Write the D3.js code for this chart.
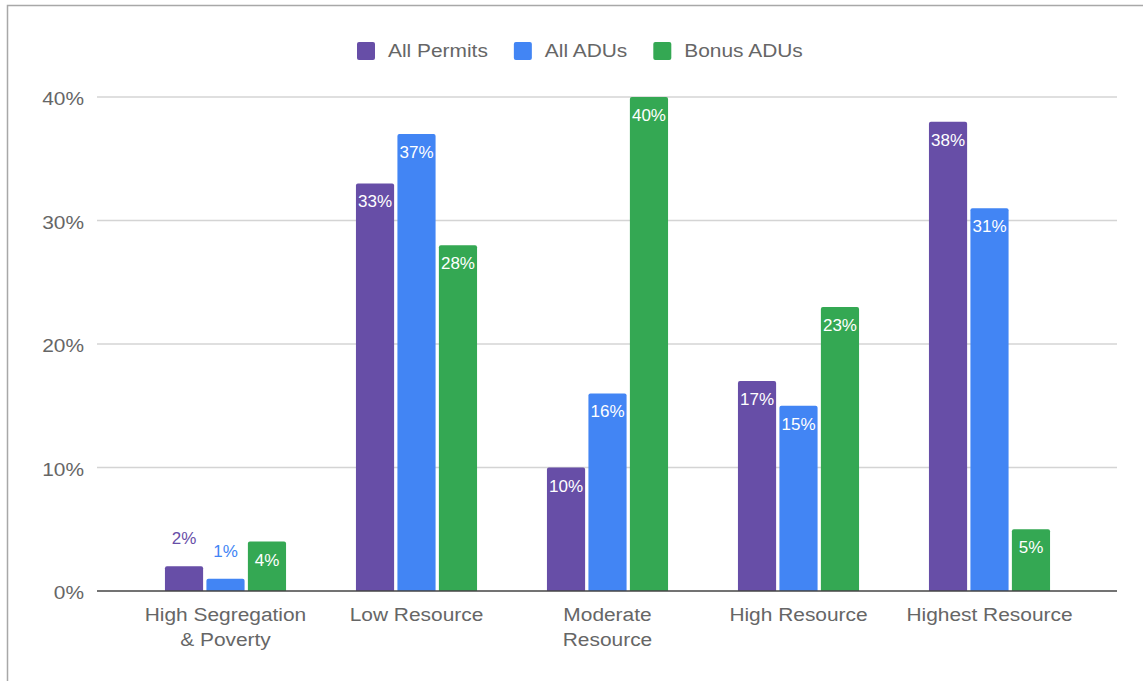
<!DOCTYPE html>
<html>
<head>
<meta charset="utf-8">
<script src="https://cdn.jsdelivr.net/npm/d3@7"></script>
<style>
  html, body { margin: 0; padding: 0; background: #fff; }
  svg { display: block; }
  text { font-family: "Liberation Sans", Arial, sans-serif; }
</style>
</head>
<body>
<svg id="chart" width="1143" height="681"></svg>
<script>
// Share of permits by resource-area category
const categories = [
  ["High Segregation", "& Poverty"],
  ["Low Resource"],
  ["Moderate", "Resource"],
  ["High Resource"],
  ["Highest Resource"]
];
const seriesNames = ["All Permits", "All ADUs", "Bonus ADUs"];
const seriesColors = ["#674ea7", "#4285f4", "#34a853"];
const allPermits = [0.02, 0.33, 0.10, 0.17, 0.38];
const allADUs    = [0.01, 0.37, 0.16, 0.15, 0.31];
const bonusADUs  = [0.04, 0.28, 0.40, 0.23, 0.05];
const yTicks = [0, 0.1, 0.2, 0.3, 0.4];

const seriesValues = [allPermits, allADUs, bonusADUs];
const catKeys = categories.map(c => c.join(" "));

const svg = d3.select("#chart");
const textColor = "#666666";
const stretch = 1.1; // horizontal text stretch

// frame
svg.append("rect")
  .attr("x", 7.5).attr("y", 5.5)
  .attr("width", 1200).attr("height", 700)
  .attr("fill", "none").attr("stroke", "#a8a8a8").attr("stroke-width", 1.5);

const gridLeft = 97, gridRight = 1117;
const y = d3.scaleLinear().domain([0, 0.4]).range([591, 97]);
const x0 = d3.scaleBand().domain(catKeys).range([130, 1085])
  .paddingInner(0.366).paddingOuter(0.183);
const x1 = d3.scaleBand().domain(seriesNames).range([0, x0.bandwidth()])
  .paddingInner(0.08);

function stretchedText(sel, xPos, yPos) {
  return sel.attr("transform", `translate(${xPos},${yPos}) scale(${stretch},1)`);
}

// gridlines
svg.append("g").selectAll("line")
  .data(yTicks.filter(t => t > 0))
  .join("line")
  .attr("x1", gridLeft).attr("x2", gridRight)
  .attr("y1", d => y(d)).attr("y2", d => y(d))
  .attr("stroke", "#d4d4d4").attr("stroke-width", 1.4);

// y tick labels
const fmt = d3.format(".0%");
svg.append("g").selectAll("text")
  .data(yTicks)
  .join("text")
  .each(function(d) { stretchedText(d3.select(this), 84, y(d) + 8); })
  .attr("text-anchor", "end")
  .attr("font-size", 19)
  .attr("fill", textColor)
  .text(d => fmt(d));

// bars
const r = 2;
function barPath(x, yTop, w, h) {
  const rr = Math.min(r, h);
  return `M${x},${yTop + h}V${yTop + rr}Q${x},${yTop} ${x + rr},${yTop}` +
         `H${x + w - rr}Q${x + w},${yTop} ${x + w},${yTop + rr}V${yTop + h}Z`;
}

const barData = [];
catKeys.forEach((c, ci) => {
  seriesNames.forEach((s, si) => {
    barData.push({ cat: c, series: s, si, value: seriesValues[si][ci] });
  });
});

const bars = svg.append("g");
bars.selectAll("path")
  .data(barData)
  .join("path")
  .attr("d", d => {
    const bx = x0(d.cat) + x1(d.series);
    const top = y(d.value);
    return barPath(bx, top, x1.bandwidth(), y(0) - top);
  })
  .attr("fill", d => seriesColors[d.si]);

// value labels
bars.selectAll("text")
  .data(barData)
  .join("text")
  .attr("x", d => x0(d.cat) + x1(d.series) + x1.bandwidth() / 2)
  .attr("y", d => {
    const top = y(d.value);
    return (y(0) - top) >= 30 ? top + 24 : top - 22;
  })
  .attr("text-anchor", "middle")
  .attr("font-size", 17)
  .attr("fill", d => (y(0) - y(d.value)) >= 30 ? "#ffffff" : seriesColors[d.si])
  .text(d => fmt(d.value));

// baseline
svg.append("line")
  .attr("x1", gridLeft).attr("x2", gridRight)
  .attr("y1", y(0)).attr("y2", y(0))
  .attr("stroke", "#444444").attr("stroke-width", 1.6);

// category labels
const catG = svg.append("g");
categories.forEach((lines, ci) => {
  const cx = x0(catKeys[ci]) + x0.bandwidth() / 2;
  lines.forEach((ln, li) => {
    catG.append("text")
      .each(function() { stretchedText(d3.select(this), cx, 621 + li * 25); })
      .attr("text-anchor", "middle")
      .attr("font-size", 19)
      .attr("fill", textColor)
      .text(ln);
  });
});

// legend
const legend = svg.append("g");
let lx = 357;
seriesNames.forEach((s, i) => {
  legend.append("rect")
    .attr("x", lx).attr("y", 42)
    .attr("width", 18).attr("height", 18)
    .attr("rx", 2)
    .attr("fill", seriesColors[i]);
  const t = legend.append("text")
    .each(function() { stretchedText(d3.select(this), lx + 31, 57); })
    .attr("font-size", 19)
    .attr("fill", textColor)
    .text(s);
  const w = t.node().getComputedTextLength() * stretch;
  lx += 31 + w + 26;
});
</script>
</body>
</html>
